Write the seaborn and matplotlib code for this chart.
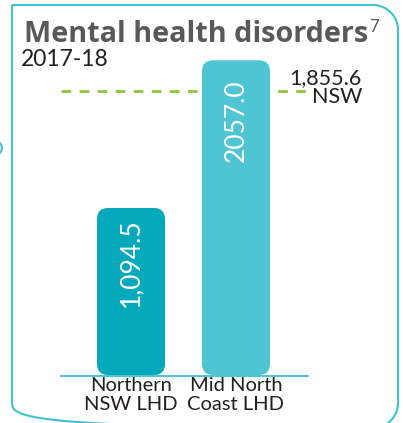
import numpy as np
import pandas as pd
import matplotlib
matplotlib.use("Agg")
import matplotlib.pyplot as plt
import seaborn as sns
from matplotlib.patches import FancyBboxPatch, PathPatch, Arc
from matplotlib.path import Path

# Dados
regioes = ["Northern\nNSW LHD", "Mid North\nCoast LHD"]
valores = [1094.5, 2057.0]
rotulos = ["1,094.5", "2057.0"]
cores = ["#04A9BC", "#4FC5D3"]
nsw_valor = 1855.6
nsw_rotulo = "1,855.6\nNSW"
titulo = "Mental health disorders"
nota = "7"
periodo = "2017-18"

df = pd.DataFrame({"regiao": regioes, "valor": valores})

sns.set_style("white")
plt.rcParams["font.family"] = ["Lato", "DejaVu Sans"]

W, H = 403, 423
fig = plt.figure(figsize=(W / 100, H / 100), dpi=100)

# Eixo de decoração em pixels
deco = fig.add_axes([0, 0, 1, 1], zorder=0)
deco.set_xlim(0, W)
deco.set_ylim(H, 0)
deco.axis("off")

# Moldura com cantos arredondados (exceto superior esquerdo)
x0, x1, y0, y1, r = 12, 398, 5, 428, 25
k = 0.5523 * r
verts = [
    (x0, y0), (x1 - r, y0),
    (x1 - r + k, y0), (x1, y0 + r - k), (x1, y0 + r),
    (x1, y1 - r),
    (x1, y1 - r + k), (x1 - r + k, y1), (x1 - r, y1),
    (x0 + r, y1),
    (x0 + r - k, y1), (x0, y1 - r + k), (x0, y1 - r),
    (x0, y0),
]
codes = [Path.MOVETO, Path.LINETO,
         Path.CURVE4, Path.CURVE4, Path.CURVE4,
         Path.LINETO,
         Path.CURVE4, Path.CURVE4, Path.CURVE4,
         Path.LINETO,
         Path.CURVE4, Path.CURVE4, Path.CURVE4,
         Path.LINETO]
deco.add_patch(PathPatch(Path(verts, codes), fill=False, edgecolor="#3FC2D2",
                         linewidth=1.5, clip_on=False))
# pedaço do painel vizinho
deco.add_patch(Arc((-30, 148), 64, 28, theta1=-60, theta2=60,
                   color="#3FC2D2", linewidth=1.5))

# título ajustado à largura do original
t = deco.text(24, 42, titulo, fontsize=19, fontweight="bold", color="#58595B",
              family=["Open Sans", "DejaVu Sans"], ha="left", va="baseline")
fig.canvas.draw()
larg = t.get_window_extent().width
t.set_fontsize(19 * 344 / larg)
deco.text(369, 32, nota, fontsize=12, color="#58595B", ha="left", va="baseline")
deco.text(21, 66, periodo, fontsize=16.5, color="#231F20", ha="left", va="baseline")

# Eixo principal
ax = fig.add_axes([61 / W, (H - 376) / H, 247 / W, 353 / H], zorder=1)
ax.patch.set_alpha(0)
sns.barplot(data=df, x="regiao", y="valor", hue="regiao", palette=cores,
            width=0.648, legend=False, ax=ax, saturation=1)
ax.set_xlim(-0.667, 1.686)
ax.set_ylim(0, 2300)

px_x = 1 / 105
px_y = 2300 / 353

# Linha NSW
ax.axhline(nsw_valor, color="#8DC63F", linestyle=(0, (3.5, 3)), linewidth=2, zorder=0)
ax.text(2.2, nsw_valor + 4 * px_y, nsw_rotulo, fontsize=15.5, color="#231F20",
        ha="right", va="center", linespacing=0.95, clip_on=False)

# Barras com cantos arredondados
for p in list(ax.patches):
    bx, by, bw, bh = p.get_x(), p.get_y(), p.get_width(), p.get_height()
    cor = p.get_facecolor()
    p.remove()
    ax.add_patch(FancyBboxPatch((bx, by + 1 * px_y), bw, bh - 1 * px_y,
                                boxstyle=f"round,pad=0,rounding_size={11 * px_x}",
                                mutation_aspect=px_y / px_x,
                                facecolor=cor, edgecolor="none", zorder=2))

desloc = [10, 19]
for i, (v, txt) in enumerate(zip(valores, rotulos)):
    ax.text(i, v - desloc[i] * px_y, txt, rotation=90, fontsize=19, color="white",
            ha="center", va="top", zorder=3)

# Linha de base
ax.axhline(0, color="#4FC5D3", linewidth=1.5, zorder=3, clip_on=False)

ax.set_xlabel("")
ax.set_ylabel("")
ax.set_yticks([])
ax.tick_params(axis="x", length=0, pad=1)
for lbl in ax.get_xticklabels():
    lbl.set_fontsize(14.5)
    lbl.set_color("#231F20")
    lbl.set_linespacing(1.15)
sns.despine(ax=ax, left=True, bottom=True)

fig.savefig("out.png", dpi=100)
